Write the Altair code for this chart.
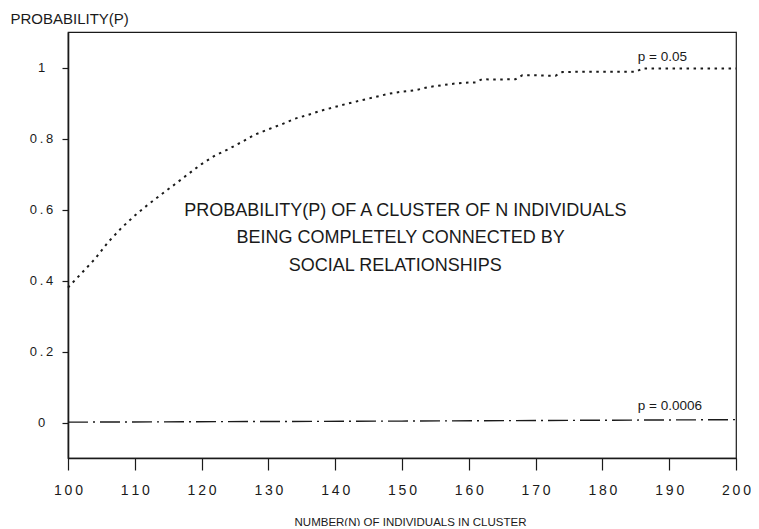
import altair as alt
import pandas as pd

# ---- data ----
n_curve = [100, 102, 104, 106, 108, 110, 112, 114, 116, 118, 120, 122, 124, 126, 128,
           130, 132, 134, 136, 138, 140, 142, 144, 146, 148, 150, 152, 154, 156, 158,
           160, 161, 162, 164, 166, 167, 168, 170, 172, 173, 174, 176, 178, 180, 182,
           184, 185, 186, 188, 190, 192, 194, 196, 198, 200]
p_curve = [0.380, 0.420, 0.460, 0.508, 0.548, 0.583, 0.614, 0.643, 0.671, 0.700, 0.728,
           0.752, 0.770, 0.790, 0.811, 0.826, 0.840, 0.856, 0.867, 0.879, 0.889, 0.899,
           0.908, 0.917, 0.926, 0.932, 0.936, 0.945, 0.950, 0.955, 0.958, 0.958, 0.967,
           0.966, 0.967, 0.967, 0.978, 0.978, 0.977, 0.977, 0.987, 0.988, 0.988, 0.988,
           0.988, 0.988, 0.988, 0.997, 0.997, 0.997, 0.997, 0.997, 0.997, 0.997, 0.997]

n_low = [100, 150, 200]
p_low = [0.001, 0.004, 0.008]

note_lines = ["PROBABILITY(P) OF A CLUSTER OF N INDIVIDUALS",
              "BEING COMPLETELY CONNECTED BY",
              "SOCIAL RELATIONSHIPS"]
note_n = [150.5, 149.8, 149.0]
note_p = [0.597, 0.520, 0.440]

tag_text = ["p = 0.05", "p = 0.0006"]
tag_n = [185.3, 185.3]
tag_p = [1.029, 0.046]

x_ticks = [100, 110, 120, 130, 140, 150, 160, 170, 180, 190, 200]
y_ticks = [0, 0.2, 0.4, 0.6, 0.8, 1]

# ---- styling ----
FONT = "Liberation Sans"
INK = "#1a1a1a"
SP = "\u2009"
spaced = f"join(split(datum.label, ''), '{SP}')"

curve_df = pd.DataFrame({"n": n_curve, "p": p_curve})
low_df = pd.DataFrame({"n": n_low, "p": p_low})
note_df = pd.DataFrame({"n": note_n, "p": note_p, "t": note_lines})
tag_df = pd.DataFrame({"n": tag_n, "p": tag_p, "t": tag_text})

xs = alt.Scale(domain=[100, 200], nice=False, zero=False)
ys = alt.Scale(domain=[-0.1, 1.1], nice=False, zero=False)

x_axis = alt.Axis(values=x_ticks, title="NUMBER(N) OF INDIVIDUALS IN CLUSTER",
                  tickSize=12, labelPadding=13, labelFontSize=14, labelExpr=spaced,
                  labelFont=FONT, labelColor=INK, titleFont=FONT, titleFontSize=11.5,
                  titleFontWeight="normal", titleColor=INK, titleY=64, titleX=342,
                  titleBaseline="middle", grid=False, domainColor=INK, domainWidth=1.6,
                  tickColor=INK, tickWidth=1.2, labelFlush=False)
y_axis = alt.Axis(values=y_ticks, title="PROBABILITY(P)", format="~g",
                  tickSize=6, labelPadding=21, labelAlign="center", labelBaseline="middle",
                  labelFontSize=13, labelExpr=spaced, labelFont=FONT, labelColor=INK,
                  titleFont=FONT, titleFontSize=15, titleFontWeight="normal",
                  titleColor=INK, titleAngle=0, titleAlign="left", titleBaseline="middle",
                  titleX=-58, titleY=-14, grid=False, domainColor=INK, domainWidth=1.6,
                  tickColor=INK, tickWidth=1.2, labelFlush=False)

curve = alt.Chart(curve_df).mark_line(color=INK, strokeWidth=2, strokeDash=[2.5, 4.5]).encode(
    x=alt.X("n:Q", scale=xs, axis=x_axis),
    y=alt.Y("p:Q", scale=ys, axis=y_axis),
)
low = alt.Chart(low_df).mark_line(color=INK, strokeWidth=1.4, strokeDash=[20, 5, 2, 5]).encode(
    x=alt.X("n:Q", scale=xs),
    y=alt.Y("p:Q", scale=ys),
)
notes = alt.Chart(note_df).mark_text(font=FONT, fontSize=18, color=INK, align="center",
                                     baseline="middle").encode(
    x=alt.X("n:Q", scale=xs), y=alt.Y("p:Q", scale=ys), text="t:N")
tags = alt.Chart(tag_df).mark_text(font=FONT, fontSize=13.5, color=INK, align="left",
                                   baseline="middle").encode(
    x=alt.X("n:Q", scale=xs), y=alt.Y("p:Q", scale=ys), text="t:N")

chart = (curve + low + notes + tags).properties(
    width=668, height=426, autosize="none",
    padding={"left": 60, "top": 24, "right": 15, "bottom": 68},
    background="white",
).configure_view(stroke=INK, strokeWidth=1.2)

chart.save("out.html", embed_options={"renderer": "svg", "actions": False})
